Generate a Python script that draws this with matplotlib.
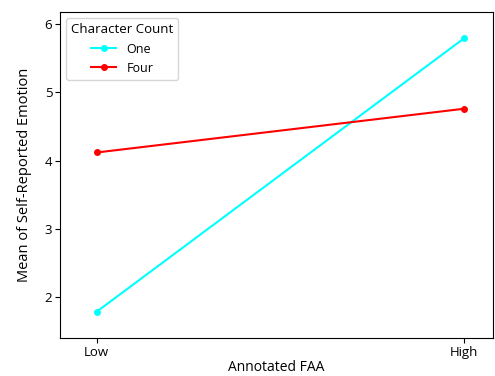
import matplotlib.pyplot as plt

plt.rcParams['font.family'] = ['Open Sans', 'DejaVu Sans']

faa_levels = ['Low', 'High']
one_means = [1.79, 5.79]
four_means = [4.12, 4.76]

fig = plt.figure(figsize=(4.95, 3.76), dpi=100)
ax = fig.add_axes([0.121, 0.1, 0.875, 0.868])

x = range(len(faa_levels))
ax.plot(x, one_means, color='cyan', marker='o', markersize=4, linewidth=1.5, label='One')
ax.plot(x, four_means, color='red', marker='o', markersize=4, linewidth=1.5, label='Four')

ax.set_xticks(list(x))
ax.set_xticklabels(faa_levels)
ax.set_yticks([2, 3, 4, 5, 6])
ax.set_xlim(-0.10, 1.079)
ax.set_ylim(1.40, 6.175)
ax.tick_params(labelsize=9.5, length=3.5, pad=2)

ax.set_xlabel('Annotated FAA', fontsize=10, labelpad=0.5)
ax.set_ylabel('Mean of Self-Reported Emotion', fontsize=10.5, labelpad=9)

ax.legend(title='Character Count', loc='upper left', fontsize=9, title_fontsize=9.5)

fig.savefig('out.png', dpi=100)
